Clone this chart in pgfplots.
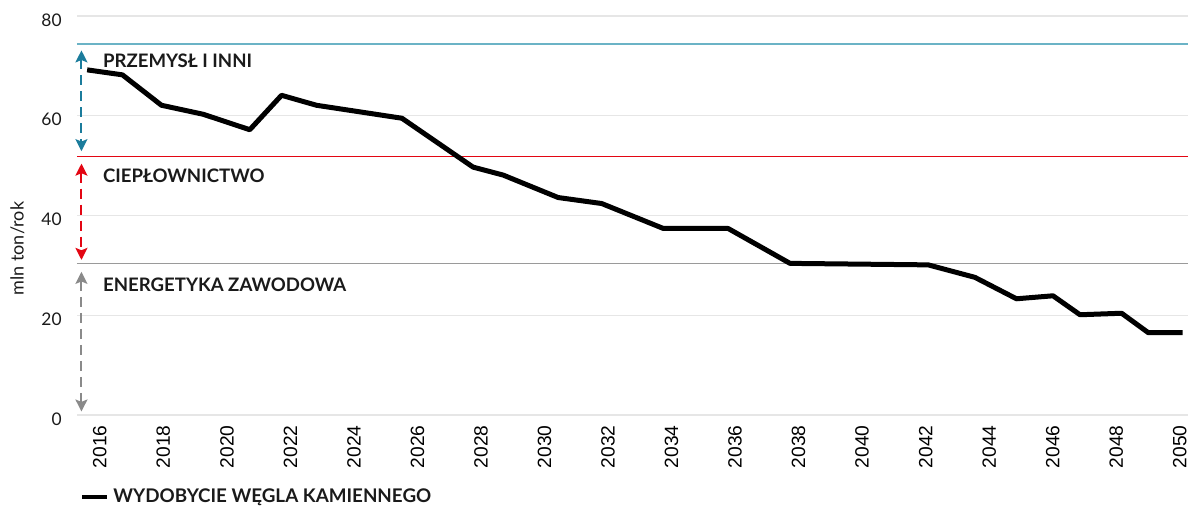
\documentclass[border=0pt]{standalone}
\usepackage{fontspec}
\setmainfont{Lato}
\newfontfamily\arial{Liberation Sans}
\usepackage{pgfplots}
\pgfplotsset{compat=1.18}
\usetikzlibrary{arrows.meta}
\definecolor{teal1}{HTML}{6BB3C6}
\definecolor{teal2}{HTML}{1B7C9C}
\definecolor{red1}{HTML}{E30613}
\definecolor{gray1}{HTML}{9A9A9A}
\definecolor{gray2}{HTML}{8A8A8A}
\definecolor{gridc}{HTML}{E6E6E6}
\definecolor{txt}{HTML}{1A1A1A}
\begin{document}
\begin{tikzpicture}
\begin{axis}[
  width=555.5pt, height=199.5pt, scale only axis,
  xmin=2015.28, xmax=2050.26, ymin=0, ymax=80,
  xtick={2016,2018,...,2050}, ytick={0,20,...,80},
  axis line style={draw=none}, major tick length=0pt,
  ymajorgrids, grid style={gridc, line width=0.6pt},
  /pgf/number format/1000 sep={},
  /pgf/number format/assume math mode=true,
  xticklabel style={rotate=90, anchor=east, inner sep=0pt,
    font=\arial\fontsize{9.6}{10}\selectfont},
  xticklabel shift=5pt,
  yticklabel style={anchor=east, inner sep=0pt, yshift=-2pt,
    font=\fontsize{8.7}{10}\selectfont, text=txt},
  yticklabel shift=7.5pt,
  ylabel={mln ton/rok},
  ylabel style={font=\fontsize{9}{10}\selectfont, text=txt, at={(ticklabel cs:0.417,5pt)}},
  clip=false,
  legend style={at={(axis description cs:0,0)}, anchor=west,
    xshift=1.5pt, yshift=-41pt, draw=none, fill=none, inner sep=0pt,
    font=\bfseries\fontsize{9.4}{10}\selectfont, text=txt},
  legend image code/.code={\draw[line width=2pt] (0pt,0pt) -- (12.5pt,0pt);},
]
% threshold lines
\addplot[teal1, line width=0.7pt, forget plot] coordinates {(2015.28,74.4)(2050.26,74.4)};
\addplot[red1, line width=0.6pt, forget plot] coordinates {(2015.28,51.8)(2050.26,51.8)};
\addplot[gray1, line width=0.6pt, forget plot] coordinates {(2015.28,30.3)(2050.26,30.3)};

\addplot[black, line width=2.5pt, line join=round] coordinates {
  (2015.60,69.2)(2016.71,68.2)(2017.94,62.1)(2019.25,60.3)(2020.72,57.2)
  (2021.72,64.1)(2022.82,62.1)(2025.51,59.5)(2027.75,49.7)(2028.70,48.1)
  (2030.43,43.6)(2031.80,42.4)(2033.74,37.4)(2035.78,37.4)(2037.73,30.4)
  (2042.08,30.1)(2043.55,27.6)(2044.86,23.3)(2046.01,23.9)(2046.86,20.1)
  (2048.17,20.4)(2049.01,16.5)(2050.09,16.5)};
\addlegendentry{WYDOBYCIE WĘGLA KAMIENNEGO}

% range arrows
\draw[teal2, line width=1pt, dash pattern=on 5pt off 3pt,
  {Stealth[length=6pt,width=6pt,inset=1.2pt]}-{Stealth[length=6pt,width=6pt,inset=1.2pt]}]
  (axis cs:2015.42,73.1) -- (axis cs:2015.42,52.9);
\draw[red1, line width=1pt, dash pattern=on 5pt off 3pt,
  {Stealth[length=6pt,width=6pt,inset=1.2pt]}-{Stealth[length=6pt,width=6pt,inset=1.2pt]}]
  (axis cs:2015.42,50.4) -- (axis cs:2015.42,31.1);
\draw[gray2, line width=1pt, dash pattern=on 5pt off 3pt,
  {Stealth[length=6pt,width=6pt,inset=1.2pt]}-{Stealth[length=6pt,width=6pt,inset=1.2pt]}]
  (axis cs:2015.42,28.7) -- (axis cs:2015.42,0.7);

\node[anchor=west, inner sep=0pt, text=txt, font=\bfseries\fontsize{9.3}{10}\selectfont]
  at (axis cs:2016.09,71) {PRZEMYSŁ I INNI};
\node[anchor=west, inner sep=0pt, text=txt, font=\bfseries\fontsize{9.3}{10}\selectfont]
  at (axis cs:2016.09,47.9) {CIEPŁOWNICTWO};
\node[anchor=west, inner sep=0pt, text=txt, font=\bfseries\fontsize{9.3}{10}\selectfont]
  at (axis cs:2016.09,26.1) {ENERGETYKA ZAWODOWA};
\end{axis}
\pgfresetboundingbox
\path (current axis.south west) ++(-38.5pt,-46.5pt) coordinate (bl);
\path (current axis.north east) ++(1.5pt,8pt) coordinate (tr);
\path (bl) rectangle (tr);
\end{tikzpicture}
\end{document}
